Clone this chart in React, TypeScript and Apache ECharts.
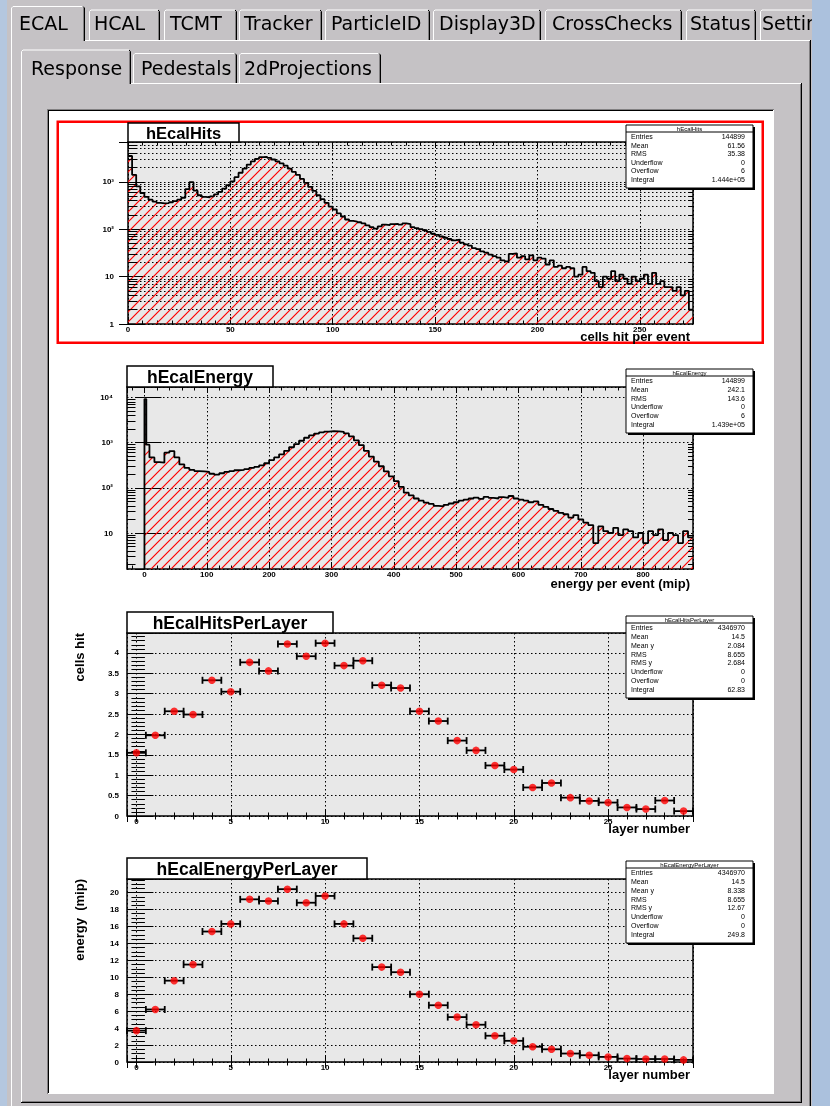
import React, { useEffect, useRef } from "react";
import * as echarts from "echarts";

// ===================== DATA =====================
// hEcalHits: cells hit per event, bins of width 2 starting at 0
const hitsBinWidth = 2;
const hitsCounts = [
  3500, 1400, 800, 580, 480, 420, 380, 360, 350, 355,
  370, 390, 420, 460, 700, 980, 650, 520, 480, 470,
  490, 540, 610, 720, 850, 1020, 1250, 1550, 1900, 2300,
  2700, 3050, 3300, 3350, 3200, 2950, 2700, 2450, 2200, 1900,
  1620, 1400, 1150, 950, 780, 640, 520, 430, 360, 300,
  260, 215, 185, 160, 150, 145, 140, 132, 120, 110,
  103, 115, 125, 122, 128, 130, 125, 132, 128, 110,
  105, 100, 95, 88, 80, 76, 70, 66, 62, 58,
  60, 52, 48, 45, 40, 38, 34, 32, 29, 27,
  25, 22, 21, 30, 31, 25, 27, 23, 28, 22,
  25, 24, 18, 22, 16, 17, 15, 16, 15, 10,
  11, 16, 13, 12, 8, 6, 10, 9, 13, 8,
  11, 9, 7, 10, 8, 9, 11, 7, 12, 7,
  8, 6, 6, 5, 6, 4, 5, 2,
];

// hEcalEnergy: energy per event (mip); narrow head bins, then bins of width 8 from 8
const energyHeadEdges = [0, 3];
const energyHeadCounts = [9200, 900];
const energyBinStart = 8;
const energyBinWidth = 8;
const energyCounts = [
  470, 370, 360, 600, 650, 470, 330, 275, 250, 235,
  230, 225, 205, 195, 210, 225, 235, 245, 250, 260,
  275, 290, 315, 350, 410, 470, 550, 660, 790, 930,
  1100, 1280, 1450, 1580, 1680, 1750, 1790, 1780, 1720, 1600,
  1380, 1120, 880, 660, 490, 380, 300, 230, 180, 140,
  105, 78, 68, 58, 52, 47, 44, 40, 39, 42,
  45, 48, 52, 55, 58, 61, 57, 63, 60, 58,
  62, 60, 66, 58, 55, 52, 48, 50, 42, 38,
  34, 31, 28, 26, 22, 25, 20, 17, 15, 6,
  14, 11, 10, 13, 9, 12, 11, 8, 10, 6,
  11, 9, 12, 7, 10, 9, 6, 11, 8,
];

// Profiles per layer
const layers = [0, 1, 2, 3, 4, 5, 6, 7, 8, 9, 10, 11, 12, 13, 14, 15, 16, 17, 18, 19, 20, 21, 22, 23, 24, 25, 26, 27, 28, 29];
const layerHalfWidth = 0.5;
const hitsPerLayer = [
  1.55, 1.98, 2.57, 2.49, 3.33, 3.05, 3.77, 3.56, 4.22, 3.92,
  4.24, 3.69, 3.81, 3.21, 3.14, 2.57, 2.33, 1.85, 1.61, 1.24,
  1.14, 0.70, 0.81, 0.45, 0.37, 0.33, 0.21, 0.17, 0.38, 0.12,
];
const energyPerLayer = [
  3.7, 6.2, 9.6, 11.5, 15.4, 16.3, 19.2, 19.0, 20.4, 18.8,
  19.6, 16.3, 14.6, 11.2, 10.6, 8.0, 6.7, 5.3, 4.4, 3.1,
  2.5, 1.8, 1.5, 1.0, 0.8, 0.6, 0.4, 0.35, 0.35, 0.25,
];

// Stats boxes
const statsHits = [["Entries", "144899"], ["Mean", "61.56"], ["RMS", "35.38"], ["Underflow", "0"], ["Overflow", "6"], ["Integral", "1.444e+05"]];
const statsEnergy = [["Entries", "144899"], ["Mean", "242.1"], ["RMS", "143.6"], ["Underflow", "0"], ["Overflow", "6"], ["Integral", "1.439e+05"]];
const statsHitsLayer = [["Entries", "4346970"], ["Mean", "14.5"], ["Mean y", "2.084"], ["RMS", "8.655"], ["RMS y", "2.684"], ["Underflow", "0"], ["Overflow", "0"], ["Integral", "62.83"]];
const statsEnergyLayer = [["Entries", "4346970"], ["Mean", "14.5"], ["Mean y", "8.338"], ["RMS", "8.655"], ["RMS y", "12.67"], ["Underflow", "0"], ["Overflow", "0"], ["Integral", "249.8"]];

const histTitles = ["hEcalHits", "hEcalEnergy", "hEcalHitsPerLayer", "hEcalEnergyPerLayer"];
const xTitles = ["cells hit per event", "energy per event (mip)", "layer number", "layer number"];
const yTitles = ["", "", "cells hit", "energy  (mip)"];

const topTabs = ["ECAL", "HCAL", "TCMT", "Tracker", "ParticleID", "Display3D", "CrossChecks", "Status", "Settings"];
const subTabs = ["Response", "Pedestals", "2dProjections"];

// ===================== LAYOUT / STYLE =====================
const ROOT_FONT = "Liberation Sans, Arial, Helvetica, DejaVu Sans, sans-serif";
const TAB_FONT = "DejaVu Sans, Verdana, sans-serif";
const GRAY = "#c5c2c5";
const SHADOW = "#828082";
const DOT: number[] = [1.5, 2.5];
const LABEL = { fontFamily: ROOT_FONT, fontSize: 8, fontWeight: "bold", color: "#000" };
const TICK_LINE = { color: "#000", width: 1 };

const PADS = [
  { left: 128, top: 142, width: 565, height: 182 },
  { left: 127, top: 387, width: 566, height: 182 },
  { left: 127, top: 633, width: 566, height: 183 },
  { left: 127, top: 879, width: 566, height: 183 },
];
const X_RANGES = [[0, 276], [-28, 880], [-0.5, 29.5], [-0.5, 29.5]];
const LOG_Y = [[1, 6900], [1.6, 17000]];

const topTabEdges = [[11, 85], [89, 160], [164, 237], [239, 322], [325, 430], [433, 541], [545, 682], [686, 756], [760, 840]];
const topTabTextX = [19, 94, 170, 244, 331, 439, 552, 690, 762];
const subTabEdges = [[21, 131], [133, 237], [239, 381]];
const subTabTextX = [31, 141, 244];

const titleBoxes = [
  { x0: 128, y0: 123, x1: 239, y1: 142, fs: 16.5 },
  { x0: 127, y0: 366, x1: 273, y1: 387, fs: 17.5 },
  { x0: 127, y0: 612, x1: 333, y1: 633, fs: 17.5 },
  { x0: 127, y0: 858, x1: 367, y1: 879, fs: 17.5 },
];
const statsBoxes = [
  { x0: 626, x1: 753, top: 125, bottom: 188 },
  { x0: 626, x1: 753, top: 369, bottom: 433 },
  { x0: 626, x1: 753, top: 616, bottom: 698 },
  { x0: 626, x1: 753, top: 861, bottom: 943 },
];
const xTitleY = [336.5, 583.5, 828.5, 1074.5];

const SUP: Record<number, string> = { 0: "1", 1: "10", 2: "10\u00b2", 3: "10\u00b3", 4: "10\u2074", 5: "10\u2075" };
const logFmt = (v: number) => SUP[Math.round(Math.log10(v))] ?? String(v);

function logMinorValues(lo: number, hi: number): number[] {
  const out: number[] = [];
  for (let e = -1; e <= 5; e++) {
    for (let m = 2; m <= 9; m++) {
      const v = m * Math.pow(10, e);
      if (v > lo && v < hi) out.push(v);
    }
  }
  return out;
}

function mkAxis(o: any): any {
  return {
    gridIndex: o.grid,
    type: o.type || "value",
    position: o.position,
    min: o.min,
    max: o.max,
    interval: o.interval,
    splitNumber: o.splitNumber,
    logBase: o.type === "log" ? 10 : undefined,
    axisLine: { show: false },
    axisTick: { show: true, inside: true, length: o.tick, lineStyle: TICK_LINE },
    minorTick: { show: !!o.minor, splitNumber: o.minor || 5, length: o.minorLen || 4, lineStyle: TICK_LINE },
    axisLabel: o.labels
      ? { ...LABEL, margin: o.margin, showMinLabel: o.showMin, showMaxLabel: false, formatter: o.formatter }
      : { show: false },
    splitLine: { show: !!o.gridLines, lineStyle: { color: "#000", width: 1, type: DOT } },
  };
}

function buildGraphic(): any[] {
  const els: any[] = [];
  const rect = (x: number, y: number, w: number, h: number, style: any, z: number) =>
    els.push({ type: "rect", silent: true, z, shape: { x, y, width: w, height: h }, style });
  const line = (x1: number, y1: number, x2: number, y2: number, stroke: string, z = -15, w = 1) =>
    els.push({ type: "line", silent: true, z, shape: { x1, y1, x2, y2 }, style: { stroke, lineWidth: w } });
  const text = (x: number, y: number, t: string, o: any = {}) =>
    els.push({
      type: "text", silent: true, z: o.z ?? 11, x, y, rotation: o.rot ?? 0,
      style: {
        text: t, fontSize: o.fs ?? 12, fontFamily: o.ff ?? ROOT_FONT, fontWeight: o.fw ?? "normal",
        fill: o.fill ?? "#000", align: o.align ?? "left", verticalAlign: o.va ?? "middle",
      },
    });

  // window background
  rect(0, 0, 830, 1106, { fill: GRAY }, -20);
  rect(0, 0, 7, 1106, { fill: "#b4c7df" }, -19);
  rect(812, 0, 18, 1106, { fill: "#abc1dd" }, -5);

  // outer tab panel
  line(85, 40.5, 811, 40.5, "#fff");
  line(11.5, 40, 11.5, 1106, "#fff");
  line(810.5, 40, 810.5, 1106, "#000");
  line(809.5, 41, 809.5, 1106, SHADOW);

  const tab = (l: number, r: number, top: number, bottom: number) => {
    line(l + 0.5, top + 2, l + 0.5, bottom, "#fff");
    line(l + 0.5, top + 2, l + 2, top + 0.5, "#fff");
    line(l + 2, top + 0.5, r - 2, top + 0.5, "#fff");
    line(r - 2, top + 0.5, r - 0.5, top + 2, "#000");
    line(r - 0.5, top + 2, r - 0.5, bottom, "#000");
    line(r - 1.5, top + 2, r - 1.5, bottom, SHADOW);
  };
  topTabs.forEach((name, i) => {
    const [l, r] = topTabEdges[i];
    const sel = i === 0;
    tab(l, r, sel ? 6 : 9.5, sel ? 41 : 40);
    text(topTabTextX[i], 23, name, { fs: 19, ff: TAB_FONT, z: -12 });
  });

  // sub tab panel
  line(131, 83.5, 801, 83.5, "#fff");
  line(21.5, 83, 21.5, 1102, "#fff");
  line(801.5, 83, 801.5, 1103, "#000");
  line(800.5, 84, 800.5, 1102, SHADOW);
  line(21, 1102.5, 802, 1102.5, "#000");
  line(22, 1101.5, 801, 1101.5, SHADOW);
  subTabs.forEach((name, i) => {
    const [l, r] = subTabEdges[i];
    const sel = i === 0;
    tab(l, r, sel ? 49.5 : 53, sel ? 84 : 83);
    text(subTabTextX[i], 67.5, name, { fs: 19, ff: TAB_FONT, z: -12 });
  });

  // embedded canvas
  rect(48, 110, 725, 983, { fill: "#fff" }, -16);
  line(47, 109.5, 774, 109.5, SHADOW);
  line(47.5, 109, 47.5, 1094, SHADOW);
  line(48, 110.5, 773, 110.5, "#000");
  line(48.5, 110, 48.5, 1093, "#000");
  line(48, 1093.5, 774, 1093.5, "#fff");
  line(773.5, 110, 773.5, 1094, "#fff");

  // selected pad border
  rect(57.75, 121.75, 705, 221, { fill: "none", stroke: "#ff0000", lineWidth: 2.5 }, 10);

  // title boxes
  titleBoxes.forEach((b, i) => {
    rect(b.x0, b.y0, b.x1 - b.x0, b.y1 - b.y0, { fill: "#fff", stroke: "#000", lineWidth: 1.5 }, 10);
    text((b.x0 + b.x1) / 2, (b.y0 + b.y1) / 2 + 0.5, histTitles[i], { fs: b.fs, fw: "bold", align: "center" });
  });

  // stats boxes
  const allStats = [statsHits, statsEnergy, statsHitsLayer, statsEnergyLayer];
  statsBoxes.forEach((b, i) => {
    const w = b.x1 - b.x0;
    const h = b.bottom - b.top;
    rect(b.x0 + 2, b.top + 2, w, h, { fill: "#000" }, 9);
    rect(b.x0, b.top, w, h, { fill: "#fff", stroke: "#000", lineWidth: 1 }, 10);
    line(b.x0, b.top + 7, b.x1, b.top + 7, "#000", 11, 1);
    text((b.x0 + b.x1) / 2, b.top + 3.8, histTitles[i], { fs: 6, align: "center" });
    const rows = allStats[i];
    const y0 = b.top + 11.5;
    const y1 = b.bottom - 8.5;
    const step = (y1 - y0) / (rows.length - 1);
    rows.forEach((r, k) => {
      text(b.x0 + 5, y0 + k * step, r[0], { fs: 7 });
      text(b.x1 - 8, y0 + k * step, r[1], { fs: 7, align: "right" });
    });
  });

  // axis titles
  xTitles.forEach((t, i) => text(690, xTitleY[i], t, { fs: 13, fw: "bold", align: "right", z: 10 }));
  yTitles.forEach((t, i) => {
    if (!t) return;
    text(79, PADS[i].top, t, { fs: 13, fw: "bold", align: "right", rot: Math.PI / 2, z: 10 });
  });
  return els;
}

function buildOption(hatch: any): any {
  const pattern = { image: hatch, repeat: "repeat", imageWidth: 10, imageHeight: 10 };

  const grids = PADS.map((p) => ({
    left: p.left, top: p.top, width: p.width, height: p.height,
    show: true, backgroundColor: "#e8e8e8", borderColor: "#000", borderWidth: 1.5,
  }));

  const xAxis: any[] = [];
  const yAxis: any[] = [];
  // x axes (bottom with labels + top mirror)
  const xCfg = [
    { interval: 50, minor: 7 },
    { splitNumber: 9, minor: 5 },
    { splitNumber: 6, minor: 5 },
    { splitNumber: 6, minor: 5 },
  ];
  PADS.forEach((_, g) => {
    const [mn, mx] = X_RANGES[g];
    const c = xCfg[g];
    xAxis.push(mkAxis({ grid: g, position: "bottom", min: mn, max: mx, interval: c.interval, splitNumber: c.splitNumber, tick: 7, minor: c.minor, minorLen: 3.5, labels: true, margin: 1.5, showMin: mn === 0, gridLines: true }));
    xAxis.push(mkAxis({ grid: g, position: "top", min: mn, max: mx, interval: c.interval, splitNumber: c.splitNumber, tick: 6, minor: c.minor, minorLen: 3.5 }));
  });
  // y axes
  LOG_Y.forEach(([mn, mx], g) => {
    yAxis.push(mkAxis({ grid: g, type: "log", position: "left", min: mn, max: mx, tick: 17, labels: true, margin: 14, showMin: mn === 1, formatter: logFmt, gridLines: true }));
    yAxis.push(mkAxis({ grid: g, type: "log", position: "right", min: mn, max: mx, tick: 9 }));
  });
  yAxis.push(mkAxis({ grid: 2, position: "left", min: 0, max: 4.49, interval: 0.5, tick: 17, minor: 5, minorLen: 8.5, labels: true, margin: 8, showMin: true, gridLines: true }));
  yAxis.push(mkAxis({ grid: 2, position: "right", min: 0, max: 4.49, interval: 0.5, tick: 9, minor: 5, minorLen: 5 }));
  yAxis.push(mkAxis({ grid: 3, position: "left", min: 0, max: 21.6, interval: 2, tick: 17, minor: 4, minorLen: 8.5, labels: true, margin: 8, showMin: true, gridLines: true }));
  yAxis.push(mkAxis({ grid: 3, position: "right", min: 0, max: 21.6, interval: 2, tick: 9, minor: 4, minorLen: 5 }));

  // log minor ticks (2..9 per decade) as mark lines
  const minorMarks = (g: number, withGrid: boolean) => {
    const [lo, hi] = LOG_Y[g];
    const [xmn, xmx] = X_RANGES[g];
    const upp = (xmx - xmn) / PADS[g].width;
    const vals = logMinorValues(lo, hi);
    const data: any[] = [];
    vals.forEach((v) => {
      data.push([{ coord: [xmn, v] }, { coord: [xmn + 8.5 * upp, v] }]);
      data.push([{ coord: [xmx - 5 * upp, v] }, { coord: [xmx, v] }]);
      if (withGrid) data.push({ yAxis: v, lineStyle: { type: DOT, color: "#000", width: 1 } });
    });
    return {
      silent: true, symbol: ["none", "none"], label: { show: false }, animation: false,
      emphasis: { disabled: true },
      lineStyle: { color: "#000", width: 1, type: "solid" }, data,
    };
  };

  const hitsData: any[] = hitsCounts.map((v, i) => [i * hitsBinWidth, v]);
  hitsData.push([hitsCounts.length * hitsBinWidth, hitsCounts[hitsCounts.length - 1]]);

  const energyData: any[] = [[energyHeadEdges[0], LOG_Y[1][0]]];
  energyHeadEdges.forEach((e, i) => energyData.push([e, energyHeadCounts[i]]));
  energyCounts.forEach((v, i) => energyData.push([energyBinStart + i * energyBinWidth, v]));
  energyData.push([energyBinStart + energyCounts.length * energyBinWidth, energyCounts[energyCounts.length - 1]]);

  const histSeries = (name: string, g: number, data: any[], withGrid: boolean) => ({
    type: "line", name, xAxisIndex: 2 * g, yAxisIndex: 2 * g, step: "end",
    symbol: "none", showSymbol: false, data, z: 3,
    lineStyle: { color: "#000", width: 1.8 },
    areaStyle: { color: pattern, origin: "start", opacity: 1 },
    markLine: minorMarks(g, withGrid),
  });

  const errRender = (params: any, api: any) => {
    const x = api.value(0);
    const y = api.value(1);
    const a = api.coord([x - layerHalfWidth, y]);
    const b = api.coord([x + layerHalfWidth, y]);
    const st = { stroke: "#000", lineWidth: 1.8 };
    return {
      type: "group",
      children: [
        { type: "line", shape: { x1: a[0], y1: a[1], x2: b[0], y2: b[1] }, style: st },
        { type: "line", shape: { x1: a[0], y1: a[1] - 3.5, x2: a[0], y2: a[1] + 3.5 }, style: st },
        { type: "line", shape: { x1: b[0], y1: b[1] - 3.5, x2: b[0], y2: b[1] + 3.5 }, style: st },
      ],
    };
  };
  const profileSeries = (name: string, g: number, vals: number[]) => {
    const data = layers.map((l, i) => [l, vals[i]]);
    return [
      { type: "custom", name: name + " errors", xAxisIndex: 2 * g, yAxisIndex: 2 * g, data, renderItem: errRender, z: 3 },
      { type: "scatter", name, xAxisIndex: 2 * g, yAxisIndex: 2 * g, data, symbol: "circle", symbolSize: 7.5, itemStyle: { color: "#ff0000" }, z: 4 },
    ];
  };

  return {
    animation: false,
    grid: grids,
    xAxis,
    yAxis,
    graphic: { elements: buildGraphic() },
    series: [
      histSeries("hEcalHits", 0, hitsData, true),
      histSeries("hEcalEnergy", 1, energyData, false),
      ...profileSeries("hEcalHitsPerLayer", 2, hitsPerLayer),
      ...profileSeries("hEcalEnergyPerLayer", 3, energyPerLayer),
    ],
  };
}

export default function App() {
  const ref = useRef<HTMLDivElement>(null);
  useEffect(() => {
    if (!ref.current) return;
    const hatch = document.createElement("canvas");
    hatch.width = 10;
    hatch.height = 10;
    const ctx = hatch.getContext("2d");
    if (ctx) {
      ctx.strokeStyle = "#ff0000";
      ctx.lineWidth = 1.2;
      ctx.beginPath();
      ctx.moveTo(-1, 11);
      ctx.lineTo(11, -1);
      ctx.moveTo(-1, 1);
      ctx.lineTo(1, -1);
      ctx.moveTo(9, 11);
      ctx.lineTo(11, 9);
      ctx.stroke();
    }
    const chart = echarts.init(ref.current, undefined, { renderer: "svg" });
    chart.setOption(buildOption(hatch));
    return () => chart.dispose();
  }, []);
  return <div ref={ref} style={{ position: "fixed", left: 0, top: 0, width: 830, height: 1106 }} />;
}
